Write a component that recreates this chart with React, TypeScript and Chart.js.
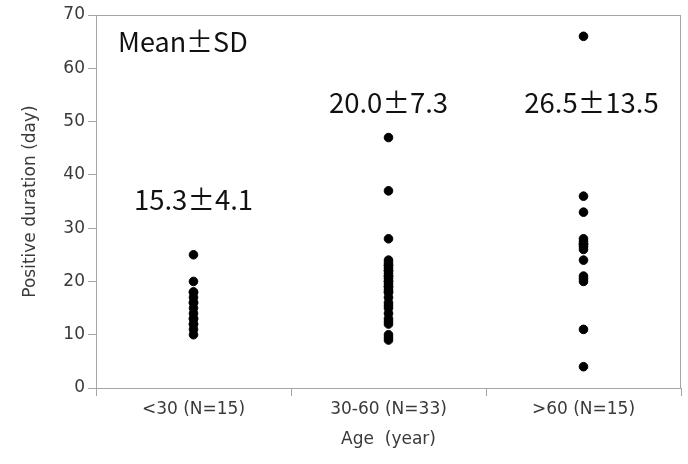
import React, { useEffect, useRef } from "react";
import { Chart, registerables } from "chart.js";

Chart.register(...registerables);

const categories = ["<30 (N=15)", "30-60 (N=33)", ">60 (N=15)"];
const under30 = [25, 20, 18, 18, 17, 16, 16, 15, 14, 13, 13, 12, 12, 11, 10];
const age30to60 = [
  47, 37, 28, 24, 23.5, 23, 23, 22.5, 22, 22, 21.5, 21, 21, 20.5, 20, 20, 19.5,
  19, 19, 18.5, 18, 18, 17, 16, 15.5, 15, 14, 13, 12.5, 12, 10, 9.5, 9,
];
const over60 = [66, 36, 33, 28, 27.5, 27, 27, 26.5, 26, 24, 21, 20.5, 20, 11, 4];
const groupValues = [under30, age30to60, over60];
const summaryLabels = ["15.3\u00B14.1", "20.0\u00B17.3", "26.5\u00B113.5"];
const summaryY = [35.3, 53.5, 53.5];
const headerLabel = "Mean\u00B1SD";
const headerY = 64.9;
const yMin = 0;
const yMax = 70;
const yStep = 10;
const xTitle = "Age  (year)";
const yTitle = "Positive duration (day)";

const AXIS_COLOR = "#a6a6a6";
const TEXT_COLOR = "#3a3a3a";
const ANNO_FONT = '"Noto Sans CJK JP", "Noto Sans", sans-serif';
const TICK_FONT = '"DejaVu Sans", Verdana, sans-serif';
const LABEL_SHIFT_X = [0, 0, 8];

export default function App() {
  const ref = useRef<HTMLCanvasElement | null>(null);

  useEffect(() => {
    document.body.style.margin = "0";
    const canvas = ref.current;
    if (!canvas) return;

    const annotationPlugin = {
      id: "annotations",
      afterDatasetsDraw(chart: any) {
        const { ctx, chartArea, scales } = chart;
        ctx.save();
        ctx.strokeStyle = AXIS_COLOR;
        ctx.lineWidth = 1;
        ctx.strokeRect(
          Math.round(chartArea.left) + 0.5,
          Math.round(chartArea.top) + 0.5,
          Math.round(chartArea.right - chartArea.left) - 1,
          Math.round(chartArea.bottom - chartArea.top)
        );
        ctx.fillStyle = "#111";
        ctx.font = `27.5px ${ANNO_FONT}`;
        ctx.textBaseline = "middle";
        ctx.textAlign = "center";
        summaryLabels.forEach((t, i) => {
          ctx.fillText(
            t,
            scales.x.getPixelForValue(i) + LABEL_SHIFT_X[i],
            scales.y.getPixelForValue(summaryY[i])
          );
        });
        ctx.font = `27px ${ANNO_FONT}`;
        ctx.textAlign = "left";
        ctx.fillText(headerLabel, chartArea.left + 22, scales.y.getPixelForValue(headerY));
        ctx.restore();
      },
    };

    const chart = new Chart(canvas, {
      type: "scatter",
      data: {
        labels: categories,
        datasets: groupValues.map((vals, i) => ({
          label: categories[i],
          data: vals.map((v) => ({ x: categories[i], y: v })),
          backgroundColor: "#000",
          borderColor: "#000",
          pointRadius: 4.3,
          pointHoverRadius: 4.3,
        })),
      },
      options: {
        animation: false,
        responsive: false,
        layout: { padding: { top: 15, right: 7, left: 0, bottom: 0 } },
        plugins: { legend: { display: false }, tooltip: { enabled: false } },
        scales: {
          x: {
            type: "category",
            labels: categories,
            offset: true,
            grid: { offset: true, drawOnChartArea: false, tickLength: 8, color: AXIS_COLOR },
            border: { color: AXIS_COLOR },
            ticks: { color: TEXT_COLOR, font: { family: TICK_FONT, size: 17 }, padding: 3 },
            title: {
              display: true,
              text: xTitle,
              color: TEXT_COLOR,
              font: { family: TICK_FONT, size: 17 },
              padding: { top: 14, bottom: 14 },
            },
            afterFit(scale: any) {
              scale.height = 76;
            },
          },
          y: {
            min: yMin,
            max: yMax,
            ticks: { stepSize: yStep, color: TEXT_COLOR, font: { family: TICK_FONT, size: 17 }, padding: 3 },
            grid: { drawOnChartArea: false, tickLength: 8, color: AXIS_COLOR },
            border: { color: AXIS_COLOR },
            title: {
              display: true,
              text: yTitle,
              color: TEXT_COLOR,
              font: { family: TICK_FONT, size: 17 },
              padding: { top: 20, bottom: 20 },
            },
            afterFit(scale: any) {
              scale.width = 96;
            },
          },
        },
      },
      plugins: [annotationPlugin],
    } as any);

    return () => chart.destroy();
  }, []);

  return (
    <div style={{ width: 688, height: 464 }}>
      <canvas ref={ref} width={688} height={464} style={{ display: "block" }} />
    </div>
  );
}
